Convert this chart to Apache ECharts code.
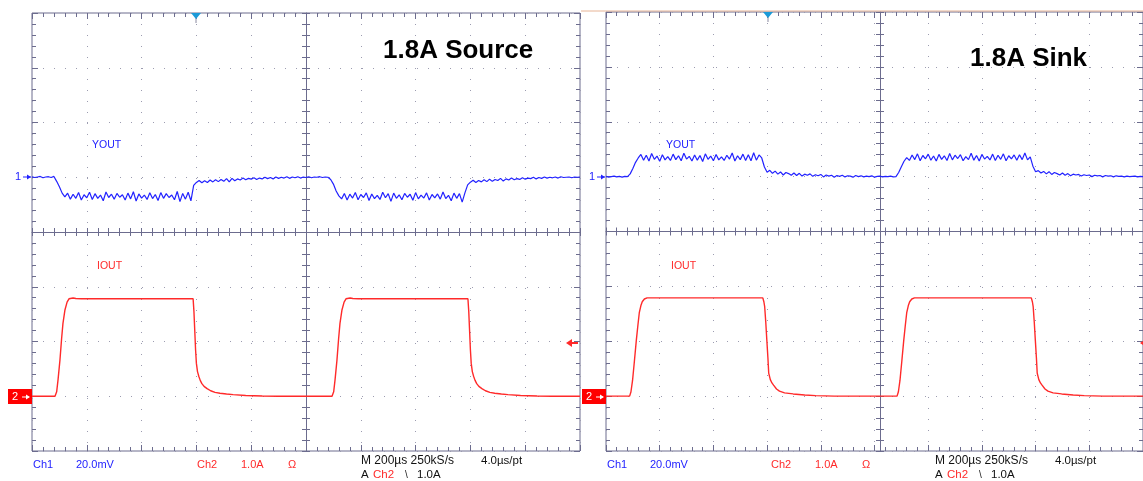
<!DOCTYPE html>
<html><head><meta charset="utf-8">
<script src="https://cdn.jsdelivr.net/npm/echarts@6/dist/echarts.min.js"></script>
<style>html,body{margin:0;padding:0;background:#fff}#c{width:1143px;height:481px}</style>
</head><body><div id="c"></div>
<script>
// ---------- axis scales ----------
const timeMinUs = 0, timeMaxUs = 2000, timeDivUs = 200;      // M 200us/div
const ch1MinMv = -100, ch1MaxMv = 60, ch1DivMv = 20;          // 20.0mV/div
const ch2MinA = -1, ch2MaxA = 7, ch2DivA = 1;                  // 1.0A/div
const voutSampleStepUs = 10;

// ---------- data ----------
// VOUT, 1.8A Source (mV, AC deviation), one sample every 10 us from 0 to 2000 us
const voutSourceMv = [
 0.2,-0.1,0.1,0.3,-0.2,0.1,0.2,-0.1,0.3,
 -1.5,-3.5,-5.8,-7.2,
 -5.8,-8.0,-6.2,-7.7,-5.6,-8.3,-6.4,-7.5,-5.5,-8.1,
 -6.0,-7.7,-6.5,-8.6,-5.4,-7.4,-6.2,-8.0,-5.9,-7.3,
 -6.4,-8.3,-5.8,-7.9,-5.3,-8.7,-6.1,-7.6,-6.5,-8.1,
 -5.7,-7.8,-6.3,-8.5,-5.6,-7.7,-6.0,-7.4,-6.5,-8.2,
 -5.2,-8.9,-5.9,-8.0,-5.5,-8.6,
 -3.0,-1.9,
 -1.2,-2.0,-1.3,-1.9,-1.0,-1.7,-0.9,-1.6,-0.8,-1.5,
 -0.5,-1.7,-0.4,-1.3,-0.6,-1.0,-0.3,-0.9,-0.4,-0.7,
 -0.2,-0.8,-0.3,-0.6,0.0,-0.5,-0.1,-0.6,0.1,-0.4,
 0.0,-0.3,0.2,-0.4,0.1,-0.2,0.2,-0.3,0.1,-0.1,
 0.2,-0.2,0.1,0.0,0.2,-0.1,0.1,0.0,
 -0.8,-2.5,-5.0,-6.8,
 -7.9,-5.9,-8.3,-6.2,-7.6,-5.6,-8.2,-6.3,-7.4,-5.7,
 -8.5,-6.1,-7.8,-6.6,-8.1,-5.5,-7.5,-6.0,-8.8,-5.8,
 -7.7,-6.4,-8.2,-5.9,-7.3,-6.2,-8.4,-5.6,-7.9,-6.5,
 -7.6,-5.7,-8.3,-6.3,-7.5,-6.1,-8.0,-5.4,-7.8,-6.6,
 -8.6,-5.8,-7.7,-6.0,-9.1,-5.7,
 -2.8,-1.8,
 -1.1,-1.9,-1.2,-1.7,-0.9,-1.6,-0.7,-1.5,-0.8,-1.2,
 -0.4,-1.4,-0.6,-1.0,-0.3,-0.9,-0.5,-0.8,-0.2,-0.7,
 -0.3,-0.5,0.0,-0.6,-0.1,-0.4,0.1,-0.3,0.0,-0.2,
 0.1,-0.3,0.2,-0.1,0.0,0.1,-0.2,0.1,0.0,0.1
];
// VOUT, 1.8A Sink (mV), one sample every 10 us from 0 to 2000 us
const voutSinkMv = [
 0.1,-0.2,0.0,0.2,-0.1,0.1,-0.2,0.1,0.0,
 1.0,3.0,5.2,6.8,
 8.1,6.0,7.8,5.7,8.4,6.3,7.5,5.6,8.0,6.1,
 7.3,5.9,8.2,6.2,7.6,5.8,8.5,6.4,7.4,5.7,
 7.9,6.0,7.7,5.5,8.3,6.3,7.5,5.8,8.1,6.1,
 7.2,5.9,7.8,6.4,8.6,5.7,7.6,6.2,8.2,5.9,
 8.0,5.8,8.7,6.0,7.9,6.8,
 3.5,1.6,
 2.3,1.2,2.0,0.9,1.7,0.6,1.5,1.1,0.5,1.3,
 0.4,1.2,0.2,0.9,0.5,1.0,0.1,0.7,0.3,0.8,
 -0.1,0.6,0.2,0.5,-0.2,0.4,0.1,0.5,-0.1,0.3,
 0.2,-0.2,0.4,0.0,0.3,-0.1,0.2,0.0,0.3,-0.2,
 0.1,0.2,-0.1,0.1,0.0,0.2,-0.1,
 0.0,1.5,3.6,5.6,6.9,
 5.9,7.9,6.2,8.3,5.8,7.7,6.5,8.2,6.0,7.5,
 5.7,8.1,6.3,7.6,5.9,8.4,6.1,7.8,6.6,8.0,
 5.8,7.3,6.2,8.5,6.0,7.7,5.7,8.1,6.4,7.4,
 6.1,8.2,5.9,7.8,6.3,8.3,5.8,7.6,6.5,7.9,
 6.0,8.0,6.2,8.6,6.1,7.2,
 3.8,1.8,
 2.2,1.3,1.9,1.0,1.8,0.8,1.5,1.1,0.6,1.3,
 0.5,1.1,0.3,0.9,0.6,0.8,0.2,0.7,0.4,0.6,
 0.0,0.5,0.3,0.4,-0.1,0.4,0.2,0.3,-0.1,0.3,
 0.1,0.2,-0.1,0.2,0.0,0.1,0.2,-0.1,0.1,0.0
];
// IOUT, 1.8A Source: [time us, current A]
const ioutSource = [
 [0,0],[84,0],[90,0.08],[95,0.3],[102,0.66],[108,1.05],[113,1.33],[120,1.57],[128,1.72],[135,1.78],[142,1.8],[150,1.795],[160,1.785],[180,1.78],
 [588,1.78],[591,1.55],[594,1.2],[597,0.85],[600,0.6],[604,0.45],[609,0.36],[614,0.29],[620,0.23],[628,0.18],[639,0.14],[652,0.1],[668,0.07],[686,0.055],[710,0.04],[734,0.03],[780,0.015],[840,0.005],[900,0],
 [1095,0],[1101,0.08],[1106,0.3],[1113,0.66],[1119,1.05],[1124,1.33],[1131,1.57],[1139,1.72],[1146,1.78],[1153,1.8],[1161,1.795],[1171,1.785],[1191,1.78],
 [1591,1.78],[1594,1.55],[1597,1.2],[1600,0.85],[1603,0.6],[1607,0.45],[1612,0.36],[1617,0.29],[1623,0.23],[1631,0.18],[1642,0.14],[1655,0.1],[1671,0.07],[1689,0.055],[1713,0.04],[1737,0.03],[1783,0.015],[1843,0.005],[1900,0],[2000,0]
];
// IOUT, 1.8A Sink: [time us, current A]
const ioutSink = [
 [0,0],[88,0],[93,0.08],[99,0.29],[106,0.65],[113,1.02],[119,1.3],[124,1.52],[130,1.65],[135,1.72],[143,1.77],[153,1.79],
 [584,1.79],[588,1.72],[591,1.63],[595,1.35],[599,1.02],[603,0.7],[606,0.42],[612,0.3],[618,0.24],[624,0.2],[635,0.13],[646,0.09],[665,0.06],[697,0.04],[740,0.02],[781,0.01],[850,0],
 [1084,0],[1089,0.08],[1095,0.29],[1102,0.65],[1109,1.02],[1115,1.3],[1120,1.52],[1126,1.65],[1131,1.72],[1139,1.77],[1149,1.79],
 [1584,1.79],[1588,1.72],[1591,1.63],[1595,1.35],[1599,1.02],[1603,0.7],[1606,0.42],[1612,0.3],[1618,0.24],[1624,0.2],[1635,0.13],[1646,0.09],[1665,0.06],[1697,0.04],[1740,0.02],[1781,0.01],[1850,0],[2000,0]
];
const panelTitles = ['1.8A Source', '1.8A Sink'];
const ch1Name = 'YOUT', ch2Name = 'IOUT';
const statusCh1 = ['Ch1', '20.0mV'];
const statusCh2 = ['Ch2', '1.0A', 'Ω'];
const statusTime = ['M 200µs 250kS/s', '4.0µs/pt'];
const statusTrig = ['A', 'Ch2', '\\', '1.0A'];

// ---------- styling ----------
const AX = '#6c6c8e', DOT = '#9c9cb0', BLUE = '#2222ff', RED = '#ff2a2a';
const FONT = '"Liberation Sans", Arial, sans-serif';
const panels = [
  {left: 32, top: 13, width: 548, height: 438},
  {left: 606, top: 12, width: 548, height: 439}
];

const grids = [], xAxes = [], yAxes = [], series = [], graphics = [];
const tick = (inside, len) => ({show: true, inside: inside, length: len, lineStyle: {color: AX, width: 1}});
const minor = (len) => ({show: true, splitNumber: 5, length: len, lineStyle: {color: AX, width: 1}});

panels.forEach((p, g) => {
  grids.push({left: p.left, top: p.top, width: p.width, height: p.height, show: true,
    borderColor: AX, borderWidth: 1, backgroundColor: 'transparent'});
  const xb = {type: 'value', gridIndex: g, min: timeMinUs, max: timeMaxUs, interval: timeDivUs,
    axisLabel: {show: false}, axisLine: {show: false, onZero: false}, splitLine: {show: false}};
  const xi = xAxes.length;
  xAxes.push(Object.assign({}, xb, {position: 'bottom', axisTick: tick(true, 6), minorTick: minor(4),
    splitLine: {show: true, lineStyle: {color: DOT, type: [1, 10], width: 1}}}));
  xAxes.push(Object.assign({}, xb, {position: 'top', axisTick: tick(true, 6), minorTick: minor(4)}));
  xAxes.push(Object.assign({}, xb, {position: 'bottom', offset: -p.height / 2,
    axisLine: {show: true, onZero: false, lineStyle: {color: AX, width: 1}}, axisTick: tick(true, 4), minorTick: minor(4)}));
  xAxes.push(Object.assign({}, xb, {position: 'bottom', offset: -p.height / 2,
    axisLine: {show: false, onZero: false}, axisTick: tick(false, 4), minorTick: minor(4)}));

  const yb = {type: 'value', gridIndex: g, axisLabel: {show: false},
    axisLine: {show: false, onZero: false}, splitLine: {show: false}};
  const yi = yAxes.length;
  yAxes.push(Object.assign({}, yb, {position: 'left', min: ch1MinMv, max: ch1MaxMv, interval: ch1DivMv,
    axisTick: tick(true, 6), minorTick: minor(4),
    splitLine: {show: true, lineStyle: {color: DOT, type: [1, 10], width: 1}}}));
  yAxes.push(Object.assign({}, yb, {position: 'right', min: ch2MinA, max: ch2MaxA, interval: ch2DivA,
    axisTick: tick(true, 6), minorTick: minor(4)}));
  yAxes.push(Object.assign({}, yb, {position: 'left', offset: -p.width / 2, min: ch1MinMv, max: ch1MaxMv, interval: ch1DivMv,
    axisLine: {show: true, onZero: false, lineStyle: {color: AX, width: 1}}, axisTick: tick(true, 4), minorTick: minor(4)}));
  yAxes.push(Object.assign({}, yb, {position: 'left', offset: -p.width / 2, min: ch1MinMv, max: ch1MaxMv, interval: ch1DivMv,
    axisTick: tick(false, 4), minorTick: minor(4)}));

  const vout = g === 0 ? voutSourceMv : voutSinkMv;
  const iout = g === 0 ? ioutSource : ioutSink;
  series.push({type: 'line', name: ch1Name + g, xAxisIndex: xi, yAxisIndex: yi, showSymbol: false, symbol: 'none',
    animation: false, clip: true, z: 5,
    lineStyle: {color: BLUE, width: 1.2}, data: vout.map((v, i) => [i * voutSampleStepUs, v])});
  series.push({type: 'line', name: ch2Name + g, xAxisIndex: xi, yAxisIndex: yi + 1, showSymbol: false, symbol: 'none',
    animation: false, clip: true, z: 5,
    lineStyle: {color: RED, width: 1.4}, data: iout});
});

// ---------- annotations ----------
function txt(x, y, s, fill, size, extra) {
  graphics.push(Object.assign({type: 'text', x: x, y: y, z: 100,
    style: {text: s, fill: fill, font: (extra && extra.bold ? 'bold ' : '') + size + 'px ' + FONT, verticalAlign: 'middle'}}));
}
const dx = panels[1].left - panels[0].left;
[0, 1].forEach(g => {
  const o = g * dx, p = panels[g];
  // channel names
  txt(92 + o, 145, ch1Name, BLUE, 10.5);
  txt(97 + o, 266, ch2Name, RED, 10.5);
  // status line
  txt(33 + o, 465, statusCh1[0], BLUE, 11);
  txt(76 + o, 465, statusCh1[1], BLUE, 11);
  txt(197 + o, 465, statusCh2[0], RED, 11);
  txt(241 + o, 465, statusCh2[1], RED, 11);
  txt(288 + o, 465, statusCh2[2], RED, 11);
  txt(361 + o, 461, statusTime[0], '#111', 12);
  txt(481 + o, 461, statusTime[1], '#111', 11.5);
  txt(361 + o, 475, statusTrig[0], '#111', 11.5);
  txt(373 + o, 475, statusTrig[1], RED, 11.5);
  txt(405 + o, 475, statusTrig[2], '#111', 10);
  txt(417 + o, 475, statusTrig[3], '#111', 11.5);
  // ch1 ground marker
  txt(p.left - 17, 177, '1', BLUE, 11);
  graphics.push({type: 'polyline', z: 100, shape: {points: [[p.left - 9, 177], [p.left - 1, 177]]}, style: {stroke: BLUE, lineWidth: 1}});
  graphics.push({type: 'polygon', z: 100, shape: {points: [[p.left - 1, 177], [p.left - 5, 174.5], [p.left - 5, 179.5]]}, style: {fill: BLUE}});
  // ch2 ground marker (red box)
  graphics.push({type: 'rect', z: 100, shape: {x: p.left - 24, y: 389, width: 24, height: 15}, style: {fill: '#ff0000'}});
  txt(p.left - 20, 397, '2', '#fff', 11);
  graphics.push({type: 'polyline', z: 101, shape: {points: [[p.left - 10, 397], [p.left - 3, 397]]}, style: {stroke: '#fff', lineWidth: 1}});
  graphics.push({type: 'polygon', z: 101, shape: {points: [[p.left - 2, 397], [p.left - 6, 394.5], [p.left - 6, 399.5]]}, style: {fill: '#fff'}});
  // ch2 trigger level arrow at right edge
  const ax = p.left + p.width - 14;
  graphics.push({type: 'polygon', z: 100, shape: {points: [[ax, 343], [ax + 6, 339], [ax + 6, 347]]}, style: {fill: RED}});
  graphics.push({type: 'polyline', z: 100, shape: {points: [[ax + 5, 343], [ax + 12, 343]]}, style: {stroke: RED, lineWidth: 2}});
  // trigger position marker on top
  const tx = g === 0 ? 196 : 768;
  graphics.push({type: 'polyline', z: 100, shape: {points: [[tx, p.top], [tx, p.top + 10]]}, style: {stroke: '#8a8aa0', lineWidth: 1}});
  graphics.push({type: 'polygon', z: 101, shape: {points: [[tx - 5, p.top], [tx + 5, p.top], [tx, p.top + 6]]}, style: {fill: '#1b9ad8'}});
});
// panel titles
txt(383, 51, panelTitles[0], '#000', 26, {bold: true});
txt(970, 59, panelTitles[1], '#000', 26, {bold: true});
// thin orange top edge of the second screenshot
graphics.push({type: 'polyline', z: 90, shape: {points: [[581, 11], [1143, 11]]}, style: {stroke: '#e7b496', lineWidth: 1}});

const chart = echarts.init(document.getElementById('c'), null, {renderer: 'canvas'});
chart.setOption({
  backgroundColor: '#ffffff',
  animation: false,
  grid: grids, xAxis: xAxes, yAxis: yAxes, series: series, graphic: graphics
});
</script></body></html>
